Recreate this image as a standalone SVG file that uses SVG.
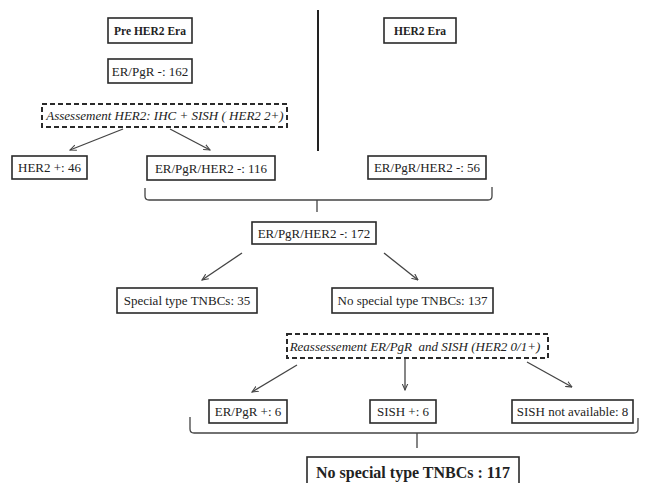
<svg xmlns="http://www.w3.org/2000/svg" width="647" height="483" viewBox="0 0 647 483">
<defs>
<style>
.box{fill:#fff;stroke:#2a2a2a;stroke-width:1.6}
.dash{fill:#fff;stroke:#2a2a2a;stroke-width:2;stroke-dasharray:5 3}
.t{font-family:"Liberation Serif","Times New Roman",serif;font-size:13px;fill:#222;text-anchor:middle}
.b{font-weight:bold;font-size:11.5px}
.i{font-style:italic}
.big{font-weight:bold;font-size:16px}
.arr{fill:none;stroke:#444;stroke-width:1.3;marker-end:url(#ah)}
.br{fill:none;stroke:#444;stroke-width:1.3}
</style>
<marker id="ah" viewBox="0 0 10 10" refX="9" refY="5" markerWidth="7" markerHeight="7" orient="auto" markerUnits="userSpaceOnUse">
<path d="M0,1 L9,5 L0,9" fill="none" stroke="#444" stroke-width="1.5"/>
</marker>
</defs>
<rect width="647" height="483" fill="#fff"/>
<g id="connectors">
<line x1="318" y1="10" x2="318" y2="151" stroke="#222" stroke-width="2"/>
<path class="arr" d="M123,129 L70,150"/>
<path class="arr" d="M170,129 L210,150"/>
<path class="br" d="M145,188 L145,196 Q145,200 149,200 L488,200 Q492,200 492,196 L492,187 M317,200 L317,212"/>
<path class="arr" d="M242,253 L202,280"/>
<path class="arr" d="M384,253 L418,280"/>
<path class="arr" d="M297,365 L252,392"/>
<path class="arr" d="M405,358 L405,390"/>
<path class="arr" d="M527,362 L572,387"/>
<path class="br" d="M190,417 L190,429 Q190,433 194,433 L634,433 Q638,433 638,429 L638,418 M417,433 L417,448"/>
</g>
<g id="pre-her2-era">
<rect class="box" x="108" y="18" width="84" height="25"/>
<text class="t b" x="150" y="34.5">Pre HER2 Era</text>
</g>
<g id="her2-era">
<rect class="box" x="384" y="18" width="72" height="25"/>
<text class="t b" x="420" y="34.5">HER2 Era</text>
</g>
<g id="erpgr-162">
<rect class="box" x="108" y="59" width="84" height="24"/>
<text class="t" x="150" y="75.5">ER/PgR -: 162</text>
</g>
<g id="assessment-her2">
<rect class="dash" x="42" y="104" width="245" height="23"/>
<text class="t i" x="165" y="120">Assessement HER2: IHC + SISH ( HER2 2+)</text>
</g>
<g id="her2-pos-46">
<rect class="box" x="12" y="156" width="75" height="23"/>
<text class="t" x="49.5" y="172">HER2 +: 46</text>
</g>
<g id="tn-116">
<rect class="box" x="147" y="156" width="128" height="24"/>
<text class="t" x="211" y="172.5">ER/PgR/HER2 -: 116</text>
</g>
<g id="tn-56">
<rect class="box" x="368" y="156" width="118" height="23"/>
<text class="t" x="427" y="172">ER/PgR/HER2 -: 56</text>
</g>
<g id="tn-172">
<rect class="box" x="252" y="222" width="124" height="22"/>
<text class="t" x="314" y="237.5">ER/PgR/HER2 -: 172</text>
</g>
<g id="special-35">
<rect class="box" x="117" y="288" width="140" height="25"/>
<text class="t" x="187" y="305">Special type TNBCs: 35</text>
</g>
<g id="nospecial-137">
<rect class="box" x="332" y="288" width="161" height="25"/>
<text class="t" x="412.5" y="305">No special type TNBCs: 137</text>
</g>
<g id="reassessment">
<rect class="dash" x="287" y="334" width="261" height="24"/>
<text class="t i" x="415" y="350.5" xml:space="preserve">Reassessement ER/PgR  and SISH (HER2 0/1+)</text>
</g>
<g id="erpgr-pos-6">
<rect class="box" x="209" y="400" width="78" height="23"/>
<text class="t" x="248" y="416">ER/PgR +: 6</text>
</g>
<g id="sish-pos-6">
<rect class="box" x="370" y="400" width="66" height="23"/>
<text class="t" x="403" y="416">SISH +: 6</text>
</g>
<g id="sish-na-8">
<rect class="box" x="512" y="400" width="121" height="23"/>
<text class="t" x="572.5" y="416">SISH not available: 8</text>
</g>
<g id="final-117">
<rect class="box" x="307" y="457" width="212" height="40" stroke-width="2"/>
<text class="t big" x="413" y="478">No special type TNBCs : 117</text>
</g>
</svg>
